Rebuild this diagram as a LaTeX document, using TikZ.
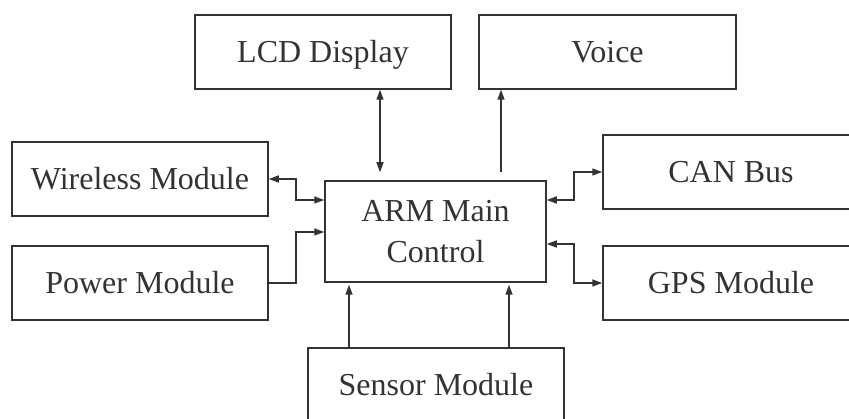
\documentclass[tikz,border=0pt]{standalone}
\usepackage{fontspec}
\setmainfont{Liberation Serif}
\usetikzlibrary{arrows.meta}
\definecolor{ink}{HTML}{333333}
\tikzset{
  blk/.style={draw=ink, line width=1.5pt, text=ink, inner sep=0pt, align=center,
    font=\fontsize{32}{41}\selectfont, text depth=0pt},
  oneline/.style={blk, text height=21.5pt, minimum width=256pt, minimum height=74pt},
  conn/.style={draw=ink, line width=1.5pt, arrows={-Triangle[length=10pt,width=7pt]}},
  biconn/.style={draw=ink, line width=1.5pt, arrows={Triangle[length=10pt,width=7pt]-Triangle[length=10pt,width=7pt]}}
}
\begin{document}
\begin{tikzpicture}[x=1pt,y=-1pt]
\useasboundingbox (0,0) rectangle (849,419);
\clip (0,0) rectangle (849,419);
\node[oneline] (lcd) at (323,52) {LCD Display};
\node[oneline, minimum width=257pt] (voice) at (607.5,52) {Voice};
\node[oneline] (wireless) at (140,179) {Wireless Module};
\node[oneline] (power) at (140,283) {Power Module};
\node[blk, minimum width=221pt, minimum height=101pt] (arm) at (435.5,231.5) {ARM Main\\Control};
\node[oneline] (can) at (731,172) {CAN Bus};
\node[oneline] (gps) at (731,283) {GPS Module};
\node[oneline] (sensor) at (436,385) {Sensor Module};

\draw[biconn, shorten >=8pt] (lcd.south -| 380,0) -- (arm.north -| 380,0);
\draw[conn, shorten <=8pt] (arm.north -| 501,0) -- (voice.south -| 501,0);
\draw[biconn] (wireless.east) -| (296,200) -- (arm.west |- 0,200);
\draw[conn] (power.east) -| (296,232) -- (arm.west |- 0,232);
\draw[biconn] (arm.east |- 0,200) -| (574,172) -- (can.west);
\draw[biconn] (arm.east |- 0,244) -| (574,283) -- (gps.west);
\draw[conn, shorten >=2pt] (sensor.north -| 349,0) -- (arm.south -| 349,0);
\draw[conn, shorten >=2pt] (sensor.north -| 509,0) -- (arm.south -| 509,0);
\end{tikzpicture}
\end{document}
